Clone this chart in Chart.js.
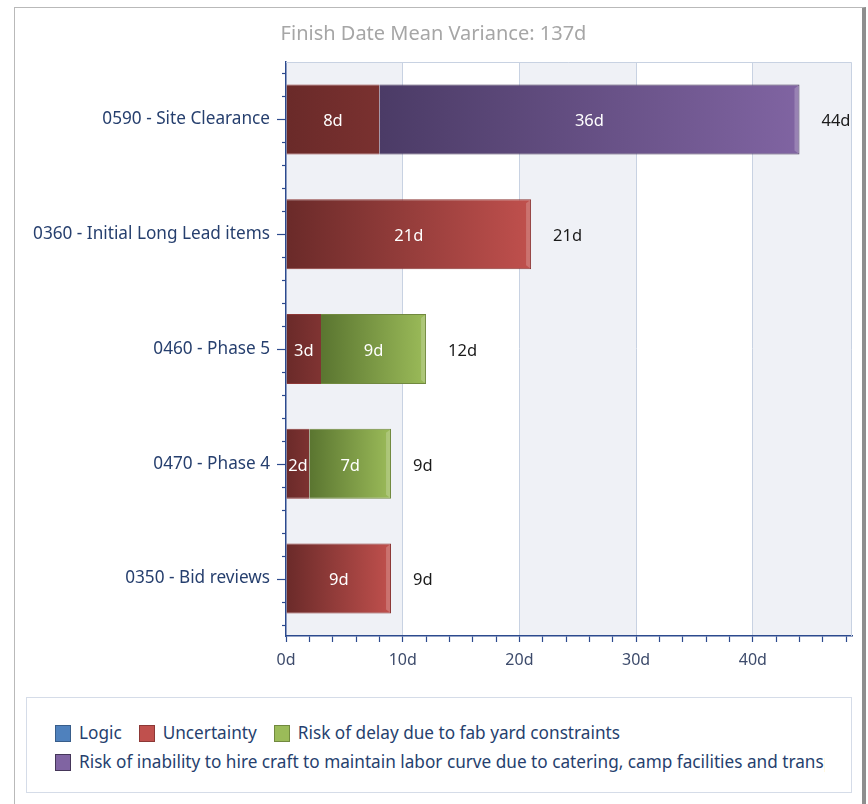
<!DOCTYPE html>
<html>
<head>
<meta charset="utf-8">
<script src="https://cdn.jsdelivr.net/npm/chart.js@4.4.1/dist/chart.umd.min.js"></script>
<style>
  body{margin:0;background:#fff;font-family:"Noto Sans",sans-serif;}
  #frame{position:absolute;left:14px;top:7px;width:847px;height:820px;
    border-left:1px solid #b9b9b9;border-top:1px solid #b9b9b9;border-right:4px solid #8e8e8e;}
  #grafico{position:absolute;left:15px;top:8px;}
  #legenda{position:absolute;left:26px;top:697px;width:824px;height:94px;border:1px solid #d5dce8;}
  #itens{position:absolute;left:28px;top:24px;width:770px;overflow:hidden;display:flex;flex-wrap:wrap;row-gap:7px;}
  .item{display:flex;align-items:center;white-space:nowrap;margin-right:17px;font-size:17.2px;color:#263f6e;line-height:22px;}
  .item span.q{width:16px;height:17px;margin-right:8px;flex:none;}
</style>
</head>
<body>
<div id="frame"></div>
<canvas id="grafico" width="846" height="680"></canvas>
<div id="legenda"><div id="itens"></div></div>
<script>
const categorias = [
  "0590 - Site Clearance",
  "0360 - Initial Long Lead items",
  "0460 - Phase 5",
  "0470 - Phase 4",
  "0350 - Bid reviews"
];
const nomesSeries = [
  "Logic",
  "Uncertainty",
  "Risk of delay due to fab yard constraints",
  "Risk of inability to hire craft to maintain labor curve due to catering, camp facilities and transportation"
];
const logica = [null, null, null, null, null];
const incerteza = [8, 21, 3, 2, 9];
const atrasoFab = [null, null, 9, 7, null];
const maoDeObra = [36, null, null, null, null];
const titulo = "Finish Date Mean Variance: 137d";

const cores = ["#4f81bd", "#c0504d", "#9bbb59", "#8064a2"];
const coresEscuras = ["#2c4a70", "#6a2a29", "#5a7530", "#4b3b66"];
const bordas = ["#385d8a", "#8c3836", "#71893f", "#453659"];

const series = [logica, incerteza, atrasoFab, maoDeObra];
const totais = categorias.map((c,i)=>series.reduce((s,a)=>s+(a[i]||0),0));

function inicio(ds, i){
  let s = 0;
  for(let k=0;k<ds;k++) s += series[k][i]||0;
  return s;
}
function ultimo(ds, i){
  for(let k=series.length-1;k>=0;k--) if(series[k][i]) return k===ds;
  return false;
}

function gradiente(ctx){
  const ds = ctx.datasetIndex, i = ctx.dataIndex;
  const x = ctx.chart.scales.x;
  if(!x || ctx.type!=="data") return cores[ds];
  const x0 = x.getPixelForValue(inicio(ds,i));
  const x1 = x.getPixelForValue(totais[i]);
  if(!isFinite(x0) || !isFinite(x1) || x1<=x0) return cores[ds];
  const g = ctx.chart.ctx.createLinearGradient(x0,0,x1,0);
  g.addColorStop(0, coresEscuras[ds]);
  g.addColorStop(1, cores[ds]);
  return g;
}

const fundo = {
  id:"fundo",
  beforeDraw(chart){
    const {ctx, chartArea:a, scales:{x}} = chart;
    ctx.save();
    for(let v=0, n=0; v<x.max; v+=10, n++){
      const p0 = x.getPixelForValue(v);
      const p1 = x.getPixelForValue(Math.min(v+10, x.max));
      ctx.fillStyle = n%2===0 ? "#eff1f6" : "#ffffff";
      ctx.fillRect(p0, a.top, p1-p0, a.bottom-a.top);
    }
    ctx.restore();
  }
};

const rotulos = {
  id:"rotulos",
  afterDatasetsDraw(chart){
    const {ctx, chartArea:a, scales:{x,y}} = chart;
    ctx.save();
    // bevel na ponta da barra
    chart.data.datasets.forEach((d,ds)=>{
      chart.getDatasetMeta(ds).data.forEach((el,i)=>{
        if(!series[ds][i] || !ultimo(ds,i)) return;
        const h = el.height/2;
        ctx.fillStyle = "rgba(255,255,255,0.2)";
        ctx.beginPath();
        ctx.moveTo(el.x-5, el.y-h+4);
        ctx.lineTo(el.x-1, el.y-h+1);
        ctx.lineTo(el.x-1, el.y+h-1);
        ctx.lineTo(el.x-5, el.y+h-4);
        ctx.closePath();
        ctx.fill();
      });
    });
    // valores dentro dos segmentos
    ctx.font = "16.5px 'Noto Sans'";
    ctx.textBaseline = "middle";
    ctx.textAlign = "center";
    ctx.fillStyle = "#ffffff";
    chart.data.datasets.forEach((d,ds)=>{
      chart.getDatasetMeta(ds).data.forEach((el,i)=>{
        const v = series[ds][i];
        if(!v) return;
        ctx.fillText(v+"d", (el.x+el.base)/2, el.y+2);
      });
    });
    // totais
    ctx.textAlign = "left";
    ctx.fillStyle = "#1a1a1a";
    totais.forEach((t,i)=>{
      ctx.fillText(t+"d", x.getPixelForValue(t)+22, y.getPixelForValue(i)+2);
    });
    // ticks do eixo y
    ctx.strokeStyle = "#2c4a8e";
    ctx.lineWidth = 1.2;
    const passo = y.getPixelForValue(1)-y.getPixelForValue(0);
    categorias.forEach((c,i)=>{
      const cy = y.getPixelForValue(i);
      for(let k=-2;k<=2;k++){
        const py = Math.round(cy + k*passo/5)+0.5;
        const len = k===0 ? 9 : 4;
        ctx.beginPath();
        ctx.moveTo(a.left-len, py);
        ctx.lineTo(a.left, py);
        ctx.stroke();
      }
    });
    // borda superior e direita da area
    ctx.strokeStyle = "#c8d2e2";
    ctx.lineWidth = 1;
    ctx.beginPath();
    ctx.moveTo(a.left, a.top+0.5);
    ctx.lineTo(a.right-0.5, a.top+0.5);
    ctx.lineTo(a.right-0.5, a.bottom);
    ctx.stroke();
    ctx.restore();
  }
};

const chart = new Chart(document.getElementById("grafico"),{
  type:"bar",
  data:{
    labels:categorias,
    datasets:series.map((s,k)=>({
      label:nomesSeries[k],
      data:s,
      backgroundColor:gradiente,
      borderColor:bordas[k],
      borderWidth:ctx=>({top:1,bottom:1,left:1,right:ultimo(ctx.datasetIndex,ctx.dataIndex)?1:0}),
      borderSkipped:"start",
      categoryPercentage:1,
      barPercentage:0.61
    }))
  },
  plugins:[fundo, rotulos],
  options:{
    indexAxis:"y",
    responsive:false,
    animation:false,
    devicePixelRatio:1,
    layout:{padding:{left:0,right:9,top:0,bottom:12}},
    plugins:{
      legend:{display:false},
      tooltip:{enabled:false},
      title:{
        display:true,
        text:titulo,
        color:"#a6a6a6",
        font:{family:"Noto Sans",size:20,weight:"normal"},
        padding:{top:14,bottom:16}
      }
    },
    scales:{
      x:{
        stacked:true,
        min:0,
        max:48.5,
        afterFit:s=>{s.height=40;},
        ticks:{
          stepSize:2,
          includeBounds:false,
          autoSkip:false,
          maxRotation:0,
          padding:9,
          color:"#3d4b6b",
          font:{family:"Noto Sans",size:16},
          callback:v=>v%10===0 ? v+"d" : ""
        },
        grid:{
          color:c=>(c.tick && c.tick.value%10===0 && c.tick.value>0) ? "#c8d2e2" : "rgba(0,0,0,0)",
          tickColor:"#2c4a8e",
          tickLength:6,
          tickWidth:1.2
        },
        border:{display:true,color:"#2c4a8e",width:1.5}
      },
      y:{
        stacked:true,
        afterFit:s=>{s.width=271;},
        ticks:{
          padding:16,
          color:"#263f6e",
          font:{family:"Noto Sans",size:17.2}
        },
        grid:{display:false,drawTicks:false},
        border:{display:true,color:"#2c4a8e",width:1.5}
      }
    }
  }
});

// legenda em html
const itens = document.getElementById("itens");
nomesSeries.forEach((n,k)=>{
  const d = document.createElement("div");
  d.className = "item";
  const q = document.createElement("span");
  q.className = "q";
  q.style.background = cores[k];
  q.style.border = "1px solid " + bordas[k];
  q.style.boxSizing = "border-box";
  d.appendChild(q);
  d.appendChild(document.createTextNode(n));
  itens.appendChild(d);
});
</script>
</body>
</html>
